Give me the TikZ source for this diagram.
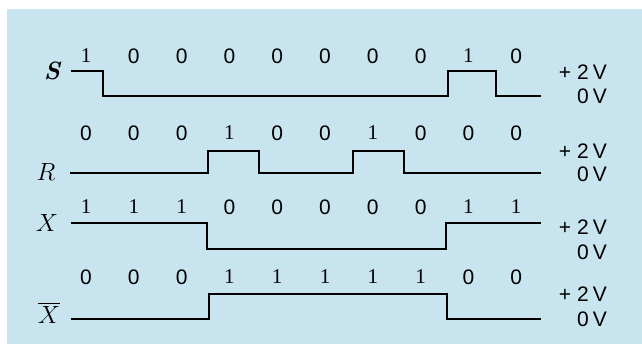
\documentclass[tikz,border=0pt]{standalone}
\usepackage{amsmath}
\usepackage{fontspec}
\newfontfamily\sansf{Liberation Sans}
\newfontfamily\seriff{Liberation Serif}
\definecolor{bgblue}{RGB}{200,228,238}
\newcommand\bitfont[1]{\ifnum#1=1 \seriff\fontsize{21}{21}\selectfont\else\sansf\fontsize{21}{21}\selectfont\fi #1}
\begin{document}
\begin{tikzpicture}[x=1pt,y=-1pt,
  wave/.style={line width=2.8pt, line join=miter},
  bit/.style={inner sep=0pt},
  sig/.style={font=\fontsize{25}{25}\selectfont, inner sep=0pt},
  volt/.style={font=\sansf\fontsize{21}{21}\selectfont, inner sep=0pt, anchor=east}]
\useasboundingbox (0,0) rectangle (642,344);
\fill[bgblue] (7,9) rectangle (642,344);
% row labels
\node[sig] (lS) at (52,71) {\bfseries\itshape S};
\node[sig] (lR) at (46,172) {$R$};
\node[sig] (lX) at (47,223) {$X$};
\node[sig] (lXb) at (49,313) {$\overline{X}$};
% bits
\foreach \b [count=\k from 0] in {1,0,0,0,0,0,0,0,1,0}
  \node[bit] (s\k) at (86+47.8*\k,56) {\bitfont{\b}};
\foreach \b [count=\k from 0] in {0,0,0,1,0,0,1,0,0,0}
  \node[bit] (r\k) at (86+47.8*\k,133) {\bitfont{\b}};
\foreach \b [count=\k from 0] in {1,1,1,0,0,0,0,0,1,1}
  \node[bit] (x\k) at (86+47.8*\k,207) {\bitfont{\b}};
\foreach \b [count=\k from 0] in {0,0,0,1,1,1,1,1,0,0}
  \node[bit] (xb\k) at (86+47.8*\k,277) {\bitfont{\b}};
% waveforms
\draw[wave] (71,71) -- (103,71) -- (103,96) -- (448,96) -- (448,71) -- (496,71) -- (496,96) -- (541,96);
\draw[wave] (70,173) -- (208,173) -- (208,151) -- (259,151) -- (259,173) -- (353,173) -- (353,151) -- (404,151) -- (404,173) -- (541,173);
\draw[wave] (71,223) -- (207,223) -- (207,249) -- (446,249) -- (446,223) -- (541,223);
\draw[wave] (71,319) -- (209,319) -- (209,294) -- (447,294) -- (447,319) -- (541,319);
% voltage labels
\node[volt] (vS2) at (607,72) {+\hspace{6pt}2\hspace{4pt}V};
\node[volt] (vS0) at (607,96) {0\hspace{4pt}V};
\node[volt] (vR2) at (607,151) {+\hspace{6pt}2\hspace{4pt}V};
\node[volt] (vR0) at (607,174) {0\hspace{4pt}V};
\node[volt] (vX2) at (607,227) {+\hspace{6pt}2\hspace{4pt}V};
\node[volt] (vX0) at (607,252) {0\hspace{4pt}V};
\node[volt] (vXb2) at (607,294) {+\hspace{6pt}2\hspace{4pt}V};
\node[volt] (vXb0) at (607,319) {0\hspace{4pt}V};
\end{tikzpicture}
\end{document}
